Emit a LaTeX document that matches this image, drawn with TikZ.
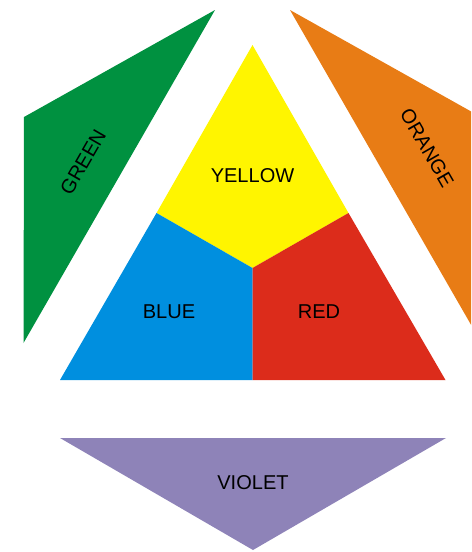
\documentclass[tikz,border=0pt]{standalone}
\usepackage{fontspec}
\setmainfont{Liberation Sans}
\definecolor{cyellow}{HTML}{FFF500}
\definecolor{cblue}{HTML}{008FDF}
\definecolor{cred}{HTML}{DC2C1B}
\definecolor{cgreen}{HTML}{009140}
\definecolor{corange}{HTML}{E87C15}
\definecolor{cviolet}{HTML}{8E83B8}
\tikzset{
  patch/.style={fill=#1, draw=none},
  colname/.style={font=\fontsize{11.4}{13}\selectfont, text=black, inner sep=0pt},
}

\begin{document}
\begin{tikzpicture}[x=0.02cm, y=-0.02cm]
  \useasboundingbox (0,0) rectangle (471,552);
  \clip (0,0) rectangle (471,552);
  % inner triangle
  \coordinate (top) at (252.5,45);
  \coordinate (bl) at (60,380);
  \coordinate (br) at (445.5,380);
  \coordinate (ml) at (156.5,213);
  \coordinate (mr) at (348.5,213);
  \coordinate (mid) at (252.5,268);
  \coordinate (mb) at (252.5,380);
  \fill[patch=cyellow] (top) -- (ml) -- (mid) -- (mr) -- cycle;
  \fill[patch=cblue] (ml) -- (bl) -- (mb) -- (mid) -- cycle;
  \fill[patch=cred] (mid) -- (mb) -- (br) -- (mr) -- cycle;
  % outer pieces
  \fill[patch=cgreen] (215,10) -- (24,117) -- (23.5,343) -- cycle;
  \fill[patch=corange] (290,10) -- (481,117) -- (481.5,343) -- cycle;
  \fill[patch=cviolet] (60,438) -- (446,438) -- (253,550) -- cycle;
  % names
  \node[colname] (yellow) at (252.5,176) {YELLOW};
  \node[colname] (blue) at (169,312) {BLUE};
  \node[colname] (red) at (319,312) {RED};
  \node[colname] (violet) at (253,483) {VIOLET};
  \node[colname, rotate=60] (green) at (83,162) {GREEN};
  \node[colname, rotate=-60] (orange) at (427,148) {ORANGE};
\end{tikzpicture}
\end{document}
